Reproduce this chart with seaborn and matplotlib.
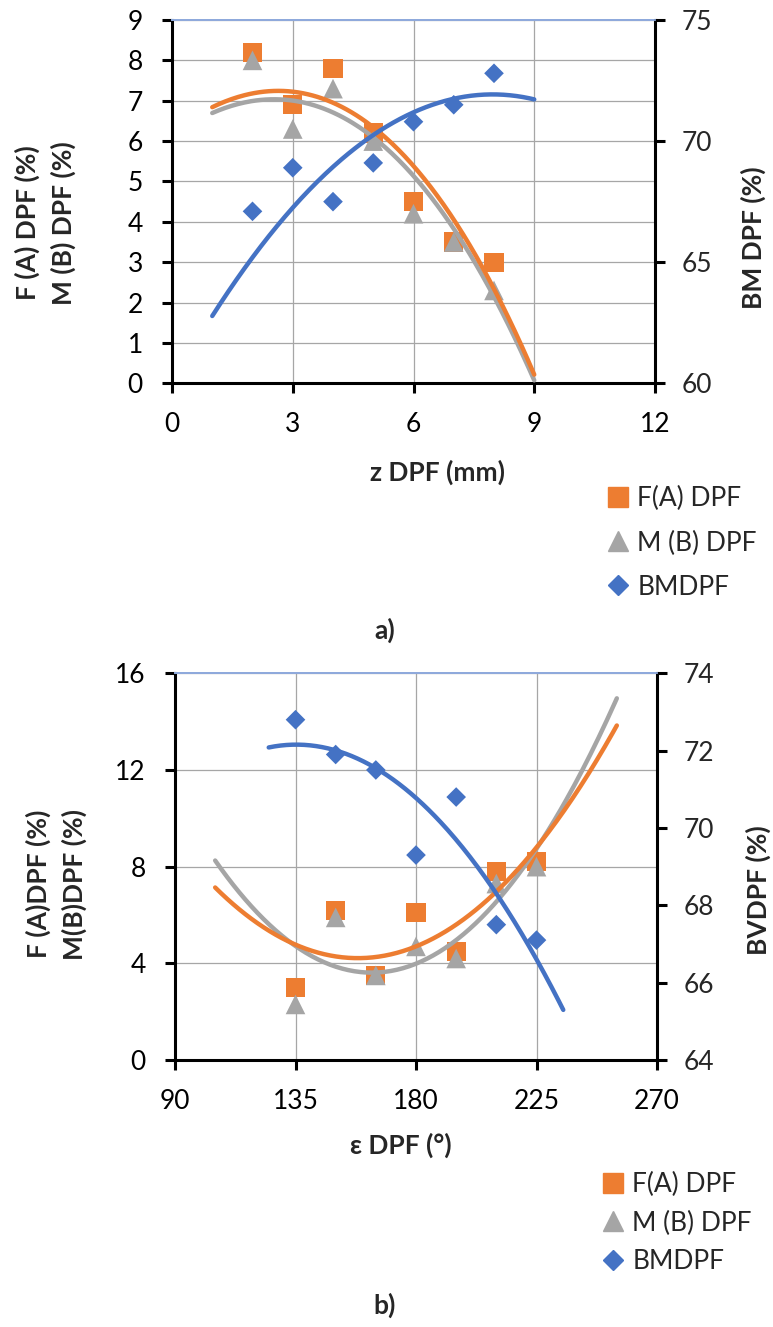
import numpy as np
import pandas as pd
import matplotlib
matplotlib.use("Agg")
import matplotlib.pyplot as plt
import seaborn as sns
from matplotlib.lines import Line2D

# ---------------- data: measured points ----------------
z_vals = [2, 3, 4, 5, 6, 7, 8]
fa_z = [8.2, 6.9, 7.8, 6.2, 4.5, 3.5, 3.0]
mb_z = [8.0, 6.3, 7.3, 6.0, 4.2, 3.5, 2.3]
bm_z = [67.1, 68.9, 67.5, 69.1, 70.8, 71.5, 72.8]

eps_vals = [135, 150, 165, 180, 195, 210, 225]
fa_e = [3.0, 6.2, 3.5, 6.1, 4.5, 7.8, 8.2]
mb_e = [2.3, 5.9, 3.5, 4.7, 4.2, 7.3, 8.0]
bm_e = [72.8, 71.9, 71.5, 69.3, 70.8, 67.5, 67.1]

# ---------------- data: trend curves ----------------
tz_x = [1, 2, 3, 4, 5, 6, 7, 8, 9]
tz_fa = [6.78, 7.25, 7.3, 6.95, 6.23, 5.3, 4.1, 2.5, 0.12]
tz_mb = [6.68, 7.0, 7.05, 6.7, 6.06, 5.1, 3.85, 2.2, 0.04]
tz_bm = [62.78, 65.2, 67.25, 68.9, 70.3, 71.2, 71.7, 71.95, 71.72]

te_x_ab = [105, 135, 160, 180, 210, 225, 255]
te_fa = [7.1, 4.85, 4.2, 4.69, 6.95, 8.78, 13.86]
te_mb = [8.27, 4.72, 3.6, 3.93, 6.6, 8.8, 14.92]
te_x_bm = [125, 135, 165, 180, 210, 235]
te_bm = [72.08, 72.17, 71.5, 70.81, 68.31, 65.29]

labels = ["F(A) DPF", "M (B) DPF", "BMDPF"]

ORANGE = "#ED7D31"
GRAY = "#A5A5A5"
BLUE = "#4472C4"
GRID = "#A6A6A6"
TOPC = "#8FAADC"
FS = 19

sns.set_style("white")
plt.rcParams["font.family"] = ["Lato", "DejaVu Sans"]

W, H = 773, 1327
fig = plt.figure(figsize=(W / 100, H / 100), dpi=100)


def px_axes(l, t, r, b):
    return fig.add_axes([l / W, 1 - b / H, (r - l) / W, (b - t) / H])


def smooth(x, y, deg):
    c = np.polyfit(x, y, deg)
    xs = np.linspace(min(x), max(x), 200)
    return pd.DataFrame({"x": xs, "y": np.polyval(c, xs)})


def panel(ax, x, fa, mb, bm, xlim, xticks, ylim, yticks, y2lim, y2ticks,
          tx_ab, t_fa, t_mb, tx_bm, t_bm, deg):
    df = pd.DataFrame({"x": x, "fa": fa, "mb": mb, "bm": bm})
    ax2 = ax.twinx()
    sns.scatterplot(data=df, x="x", y="fa", ax=ax, marker="s", s=190,
                    color=ORANGE, edgecolor="none", zorder=3)
    sns.scatterplot(data=df, x="x", y="mb", ax=ax, marker="^", s=200,
                    color=GRAY, edgecolor="none", zorder=4)
    sns.lineplot(data=smooth(tx_ab, t_mb, deg), x="x", y="y", ax=ax,
                 color=GRAY, lw=3.2, zorder=5)
    sns.lineplot(data=smooth(tx_ab, t_fa, deg), x="x", y="y", ax=ax,
                 color=ORANGE, lw=3.2, zorder=6)
    sns.scatterplot(data=df, x="x", y="bm", ax=ax2, marker="D", s=100,
                    color=BLUE, edgecolor="none", zorder=3)
    sns.lineplot(data=smooth(tx_bm, t_bm, deg), x="x", y="y", ax=ax2,
                 color=BLUE, lw=3.2, zorder=4)

    ax.set_xlim(*xlim)
    ax.set_xticks(xticks)
    ax.set_ylim(*ylim)
    ax.set_yticks(yticks)
    ax2.set_ylim(*y2lim)
    ax2.set_yticks(y2ticks)
    for a in (ax, ax2):
        a.set_xlabel("")
        a.set_ylabel("")
    ax.grid(True, color=GRID, lw=0.9)
    ax.set_axisbelow(True)
    for a in (ax, ax2):
        for s in ("left", "right", "bottom"):
            a.spines[s].set_color("black")
            a.spines[s].set_linewidth(2.2)
        a.spines["top"].set_color(TOPC)
        a.spines["top"].set_linewidth(1.3)
    ax.spines["right"].set_visible(False)
    ax2.spines["left"].set_visible(False)
    ax2.spines["bottom"].set_visible(False)
    ax.tick_params(axis="both", which="major", direction="out", length=7,
                   width=2.2, color="black", labelsize=FS, labelcolor="black",
                   left=True, bottom=True)
    ax.tick_params(axis="y", pad=14)
    ax.tick_params(axis="x", pad=14)
    ax2.tick_params(axis="y", direction="out", length=7, width=2.2,
                    color="black", labelsize=FS, pad=12, right=True)
    return ax2


ax_a = px_axes(172, 20, 655, 383.3)
panel(ax_a, z_vals, fa_z, mb_z, bm_z, (0, 12), [0, 3, 6, 9, 12], (0, 9),
      list(range(0, 10)), (60, 75), [60, 65, 70, 75],
      tz_x, tz_fa, tz_mb, tz_x, tz_bm, 3)

ax_b = px_axes(175, 673.3, 657, 1060)
panel(ax_b, eps_vals, fa_e, mb_e, bm_e, (90, 270), [90, 135, 180, 225, 270],
      (0, 16), [0, 4, 8, 12, 16], (64, 74), [64, 66, 68, 70, 72, 74],
      te_x_ab, te_fa, te_mb, te_x_bm, te_bm, 2)


def ftext(x, y, s, **kw):
    fig.text(x / W, 1 - y / H, s, ha="center", va="center",
             fontsize=FS, fontweight="bold", **kw)


ftext(45, 223, "F (A) DPF (%)\nM (B) DPF (%)", rotation=90,
      linespacing=1.5)
ftext(753, 238, "BM DPF (%)", rotation=90)
ftext(437, 472, "z DPF (mm)")
ftext(385, 630, "a)")

ftext(56, 884, "F (A)DPF (%)\nM(B)DPF (%)", rotation=90, linespacing=1.5)
ftext(758, 890, "BVDPF (%)", rotation=90)
ftext(401, 1145, "ε DPF (°)")
ftext(385, 1305, "b)")

handles = [
    Line2D([], [], marker="s", ls="none", color=ORANGE, markersize=13.7),
    Line2D([], [], marker="^", ls="none", color=GRAY, markersize=14.4),
    Line2D([], [], marker="D", ls="none", color=BLUE, markersize=10),
]
for (lx, ly, sp) in [(605, 543, 0.72), (600, 1223, 0.52)]:
    fig.legend(handles, labels, loc="center left",
               bbox_to_anchor=(lx / W, 1 - ly / H), frameon=False,
               fontsize=FS, handlelength=1.0, handletextpad=0.22,
               labelspacing=sp, borderpad=0, borderaxespad=0)

fig.savefig("out.png", dpi=100)
